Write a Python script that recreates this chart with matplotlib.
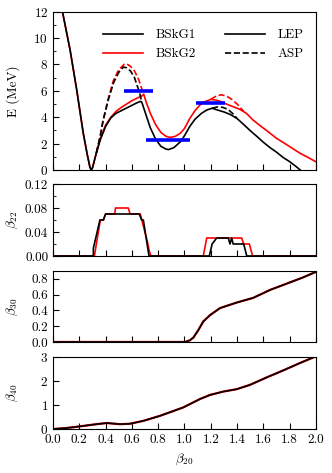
import matplotlib
matplotlib.use("Agg")
import matplotlib.pyplot as plt
from matplotlib.ticker import MultipleLocator, FormatStrFormatter

plt.rcParams['font.family'] = 'serif'
plt.rcParams['font.serif'] = ['cmr10']
plt.rcParams['mathtext.fontset'] = 'cm'
plt.rcParams['axes.formatter.use_mathtext'] = True
plt.rcParams['font.size'] = 9.5

# ---- top panel: energy curves ----
b1_lep_x = [0.06, 0.10, 0.13, 0.18, 0.23, 0.26, 0.28, 0.29, 0.30, 0.33, 0.36, 0.40, 0.44, 0.48, 0.52,
            0.56, 0.60, 0.64, 0.665, 0.675, 0.70, 0.74, 0.78, 0.82, 0.86, 0.88, 0.92, 0.97, 1.00, 1.04,
            1.08, 1.13, 1.17, 1.21, 1.25, 1.30, 1.35, 1.40, 1.45, 1.50, 1.55, 1.60, 1.65, 1.70, 1.75,
            1.80, 1.85, 1.88]
b1_lep_e = [12.6, 10.6, 9.1, 6.1, 2.8, 1.2, 0.25, 0.0, 0.15, 1.3, 2.3, 3.3, 3.95, 4.3, 4.5,
            4.7, 4.9, 5.1, 5.2, 5.15, 4.4, 3.2, 2.35, 1.8, 1.58, 1.55, 1.7, 2.15, 2.6, 3.3,
            3.85, 4.3, 4.55, 4.68, 4.55, 4.4, 4.2, 3.9, 3.45, 2.98, 2.55, 2.1, 1.7, 1.35, 0.95,
            0.63, 0.25, 0.0]

b2_lep_x = [0.06, 0.10, 0.13, 0.18, 0.23, 0.26, 0.28, 0.29, 0.30, 0.33, 0.36, 0.40, 0.44, 0.48, 0.52,
            0.56, 0.60, 0.64, 0.675, 0.69, 0.71, 0.74, 0.78, 0.82, 0.86, 0.89, 0.93, 0.97, 1.00,
            1.04, 1.08, 1.12, 1.16, 1.20, 1.24, 1.28, 1.33, 1.37, 1.42, 1.47, 1.52, 1.57, 1.63,
            1.70, 1.78, 1.85, 1.88, 1.94, 2.00]
b2_lep_e = [12.6, 10.6, 9.1, 6.1, 2.8, 1.2, 0.25, 0.0, 0.15, 1.3, 2.4, 3.4, 4.0, 4.45, 4.75,
            5.0, 5.25, 5.45, 5.6, 5.75, 5.1, 4.3, 3.45, 2.85, 2.55, 2.47, 2.55, 2.8, 3.15,
            3.9, 4.5, 4.95, 5.2, 5.35, 5.3, 5.18, 4.95, 4.8, 4.6, 4.3, 3.8, 3.4, 2.95,
            2.4, 1.9, 1.45, 1.26, 0.95, 0.62]

b1_asp1_x = [0.33, 0.36, 0.38, 0.42, 0.46, 0.50, 0.535, 0.56, 0.59, 0.62, 0.64, 0.66, 0.675]
b1_asp1_e = [1.3, 2.6, 3.7, 5.3, 6.6, 7.4, 7.8, 7.75, 7.5, 7.0, 6.4, 5.8, 5.15]
b2_asp1_x = [0.33, 0.36, 0.38, 0.42, 0.46, 0.50, 0.54, 0.56, 0.59, 0.62, 0.65, 0.67, 0.69]
b2_asp1_e = [1.3, 2.6, 3.7, 5.4, 6.8, 7.6, 8.0, 8.05, 7.85, 7.5, 6.9, 6.3, 5.75]

b1_asp2_x = [1.21, 1.25, 1.29, 1.33, 1.37, 1.40]
b1_asp2_e = [4.68, 4.78, 4.75, 4.6, 4.25, 3.9]
b2_asp2_x = [1.20, 1.24, 1.28, 1.32, 1.36, 1.40, 1.45]
b2_asp2_e = [5.35, 5.6, 5.7, 5.6, 5.35, 5.0, 4.45]

bar_start = [0.54, 0.71, 1.09]
bar_end = [0.76, 1.04, 1.31]
bar_e = [6.0, 2.25, 5.1]

# ---- beta22 ----
b22_b1_x = [0.0, 0.307, 0.307, 0.357, 0.383, 0.40, 0.656, 0.674, 0.687, 0.73, 1.189, 1.21, 1.245,
            1.333, 1.346, 1.359, 1.37, 1.45, 1.462, 1.473, 2.0]
b22_b1_y = [0.0, 0.0, 0.013, 0.06, 0.06, 0.07, 0.07, 0.06, 0.06, 0.0, 0.0, 0.02, 0.03,
            0.03, 0.02, 0.03, 0.02, 0.02, 0.01, 0.0, 0.0]
b22_b2_x = [0.0, 0.315, 0.36, 0.383, 0.40, 0.47, 0.475, 0.573, 0.586, 0.664, 0.722, 0.73, 0.745,
            1.143, 1.169, 1.435, 1.45, 1.493, 1.518, 2.0]
b22_b2_y = [0.0, 0.0, 0.06, 0.06, 0.07, 0.07, 0.08, 0.08, 0.07, 0.07, 0.02, 0.01, 0.0,
            0.0, 0.03, 0.03, 0.02, 0.02, 0.0, 0.0]

# ---- beta30 ----
b30_x = [0.0, 1.004, 1.04, 1.067, 1.105, 1.143, 1.194, 1.27, 1.397, 1.523, 1.65, 1.777, 1.903, 2.0]
b30_y = [0.0, 0.0, 0.02, 0.055, 0.15, 0.26, 0.34, 0.43, 0.50, 0.56, 0.66, 0.74, 0.82, 0.89]

# ---- beta40 ----
b40_x = [0.0, 0.1, 0.205, 0.30, 0.408, 0.51, 0.586, 0.687, 0.814, 0.991, 1.118, 1.194, 1.295,
         1.397, 1.498, 1.625, 1.75, 1.878, 2.0]
b40_y = [0.0, 0.04, 0.11, 0.18, 0.25, 0.2, 0.22, 0.34, 0.55, 0.9, 1.25, 1.42, 1.56,
         1.66, 1.84, 2.15, 2.44, 2.75, 3.03]

fig = plt.figure(figsize=(3.32, 4.73), dpi=100)
L, R = 0.1596, 0.9518
W = R - L
ax1 = fig.add_axes([L, 0.6406, W, 0.9753 - 0.6406])
ax2 = fig.add_axes([L, 0.4588, W, 0.611 - 0.4588])
ax3 = fig.add_axes([L, 0.277, W, 0.427 - 0.277])
ax4 = fig.add_axes([L, 0.093, W, 0.2452 - 0.093])

lw = 1.2
ax1.plot(b2_lep_x, b2_lep_e, color='red', lw=lw)
ax1.plot(b2_asp1_x, b2_asp1_e, color='red', lw=lw, ls='--')
ax1.plot(b2_asp2_x, b2_asp2_e, color='red', lw=lw, ls='--')
ax1.plot(b1_lep_x, b1_lep_e, color='black', lw=lw)
ax1.plot(b1_asp1_x, b1_asp1_e, color='black', lw=lw, ls='--')
ax1.plot(b1_asp2_x, b1_asp2_e, color='black', lw=lw, ls='--')
ax1.hlines(bar_e, bar_start, bar_end, color='blue', lw=2.6, zorder=5)

h1, = ax1.plot([], [], color='black', lw=lw, label='BSkG1')
h2, = ax1.plot([], [], color='red', lw=lw, label='BSkG2')
h3, = ax1.plot([], [], color='black', lw=lw, label='LEP')
h4, = ax1.plot([], [], color='black', lw=lw, ls='--', label='ASP')
ax1.legend(handles=[h1, h2, h3, h4], ncol=2, frameon=False, loc='upper right',
           handlelength=3.0, columnspacing=2.2, handletextpad=1.0, labelspacing=0.5,
           bbox_to_anchor=(1.0, 0.965), fontsize=9.5)

ax1.set_ylim(0, 12)
ax1.set_ylabel('E (MeV)')
ax1.yaxis.set_major_locator(MultipleLocator(2))
ax1.yaxis.set_minor_locator(MultipleLocator(1))

ax2.plot(b22_b2_x, b22_b2_y, color='red', lw=lw)
ax2.plot(b22_b1_x, b22_b1_y, color='black', lw=lw)
ax2.set_ylim(0, 0.12)
ax2.yaxis.set_major_locator(MultipleLocator(0.04))
ax2.yaxis.set_minor_locator(MultipleLocator(0.02))
ax2.yaxis.set_major_formatter(FormatStrFormatter('%.2f'))
ax2.set_ylabel(r'$\beta_{22}$')

ax3.plot(b30_x, b30_y, color='red', lw=lw + 0.4)
ax3.plot(b30_x, b30_y, color='black', lw=lw)
ax3.set_ylim(0, 0.9)
ax3.yaxis.set_major_locator(MultipleLocator(0.2))
ax3.yaxis.set_major_formatter(FormatStrFormatter('%.1f'))
ax3.set_ylabel(r'$\beta_{30}$')

ax4.plot(b40_x, b40_y, color='red', lw=lw + 0.4)
ax4.plot(b40_x, b40_y, color='black', lw=lw)
ax4.set_ylim(0, 3)
ax4.yaxis.set_major_locator(MultipleLocator(1))
ax4.set_ylabel(r'$\beta_{40}$')
ax4.set_xlabel(r'$\beta_{20}$')

for ax in (ax1, ax2, ax3, ax4):
    ax.set_xlim(0, 2.0)
    ax.xaxis.set_major_locator(MultipleLocator(0.2))
    ax.xaxis.set_major_formatter(FormatStrFormatter('%.1f'))
    ax.tick_params(which='both', direction='in', top=False, right=False)
    ax.tick_params(which='major', length=4, width=0.8)
    ax.tick_params(which='minor', length=2, width=0.6)
    ax.yaxis.set_label_coords(-0.125, 0.5)
    if ax is not ax4:
        ax.tick_params(labelbottom=False)

fig.savefig('out.png', dpi=100)
